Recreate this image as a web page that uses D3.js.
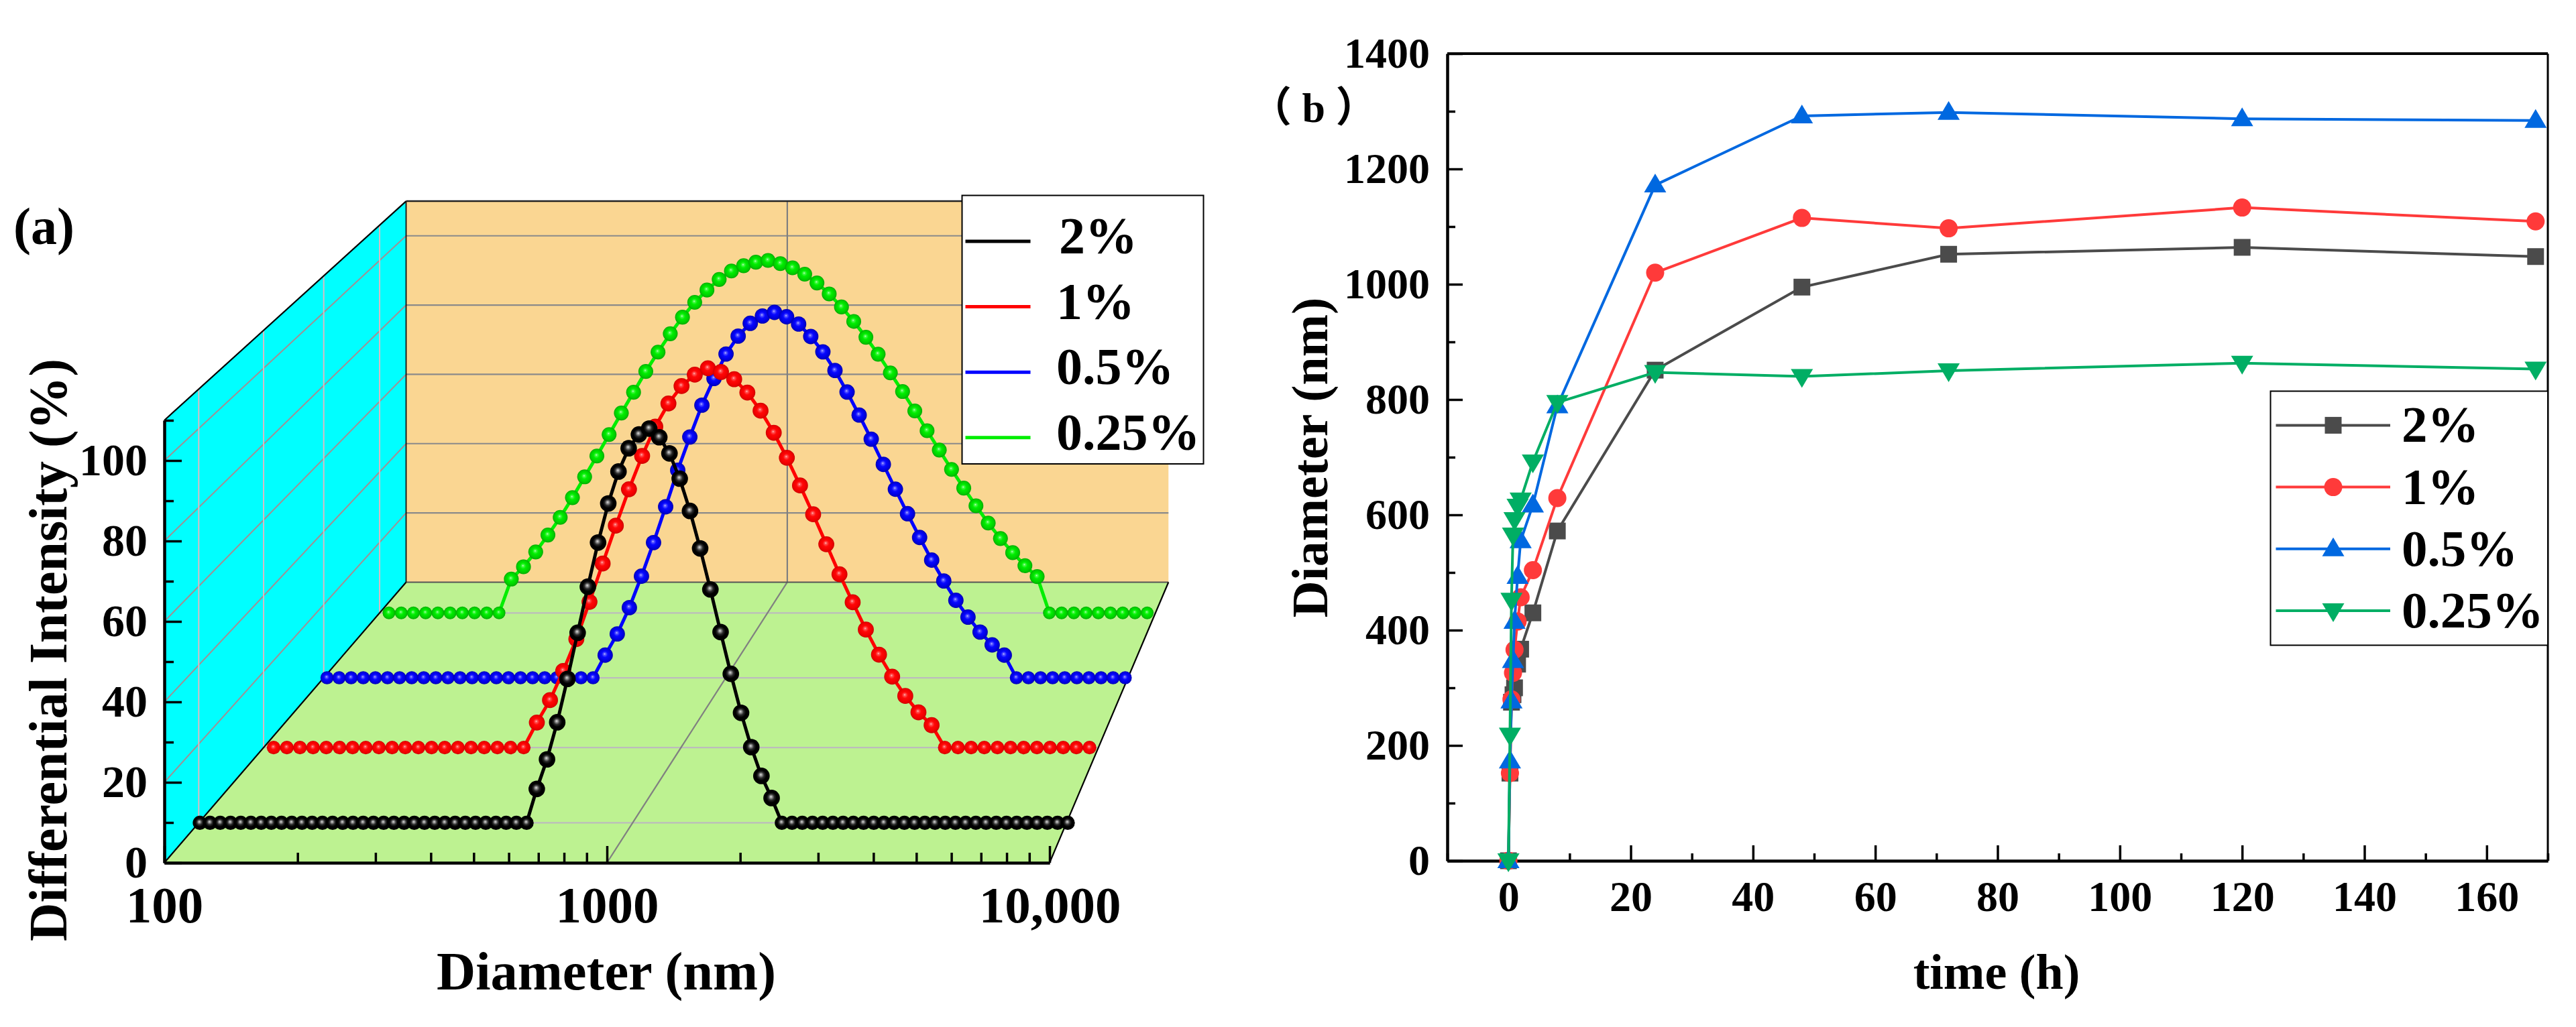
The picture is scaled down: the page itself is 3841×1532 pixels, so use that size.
<!DOCTYPE html>
<html>
<head>
<meta charset="utf-8">
<script src="https://cdn.jsdelivr.net/npm/d3@7"></script>
<style>
  body { margin: 0; background: #fff; }
  svg { display: block; }
  text { font-family: "Liberation Serif", "Noto Sans CJK SC", serif; font-weight: bold; fill: #000; white-space: pre; }
  .axis text { fill: #000; }
  .axis line { stroke: #000; stroke-width: 3.5; }
  .axis path { stroke: #000; stroke-width: 4; }
</style>
</head>
<body>
<svg id="chart" width="3841" height="1532"></svg>
<script>
// panel (a): diameter (nm) and normalised intensity (%)
var diam2 = [100.6,106.2,112.1,118.4,125.0,131.9,139.3,147.0,155.2,163.9,173.0,182.6,192.8,203.5,214.8,226.8,239.4,252.8,266.8,281.7,297.4,313.9,331.4,349.9,369.3,389.9,411.6,434.5,458.7,484.2,511.2,539.7,569.7,601.4,634.9,670.3,707.6,747.0,788.6,832.5,878.8,927.8,979.4,1034,1092,1152,1216,1284,1356,1431,1511,1595,1684,1778,1877,1981,2091,2208,2331,2461,2598,2742,2895,3056,3226,3406,3596,3796,4007,4230,4466,4715,4977,5254,5547,5856,6182,6526,6889,7273,7678,8105,8556,9033,9536,10067];
var int2 = [0,0,0,0,0,0,0,0,0,0,0,0,0,0,0,0,0,0,0,0,0,0,0,0,0,0,0,0,0,0,0,0,0,
  8.6,16.1,25.5,36.5,48.2,59.9,71.1,81.0,89.1,95.0,98.5,100,97.8,93.7,87.3,79.1,69.6,59.2,48.4,37.8,27.9,19.2,11.9,6.3,
  0,0,0,0,0,0,0,0,0,0,0,0,0,0,0,0,0,0,0,0,0,0,0,0,0,0,0,0,0];

var diam1 = [105.7,113.7,122.2,131.4,141.3,152.0,163.4,175.7,188.9,203.2,218.5,234.9,252.6,271.6,292.1,314.1,337.7,363.2,390.5,419.9,451.5,485.5,522.1,561.4,603.6,649.1,698.0,750.5,807.0,867.8,933.1,1003,1079,1160,1247,1341,1442,1551,1668,1793,1928,2073,2229,2397,2578,2772,2981,3205,3446,3706,3985,4285,4608,4955,5328,5729,6160,6624,7123,7659,8236,8856,9523];
var int1 = [0,0,0,0,0,0,0,0,0,0,0,0,0,0,0,0,0,0,0,0,
  6.6,12.5,20.2,28.6,38.4,48.5,58.5,68.1,76.9,84.6,90.7,95.3,98.3,100,99.0,97.1,93.6,88.8,83.0,76.4,69.1,61.5,53.6,45.7,38.3,31.1,24.5,18.7,13.6,9.3,5.9,
  0,0,0,0,0,0,0,0,0,0,0,0];

var diam05 = [101.9,109.2,117.0,125.4,134.4,144.1,154.4,165.5,177.3,190.0,203.7,218.3,233.9,250.7,268.7,288.0,308.6,330.7,354.4,379.8,407.1,436.3,467.5,501.1,537.0,575.5,616.8,661.0,708.4,759.2,813.6,871.9,934.5,1001,1073,1150,1233,1321,1416,1517,1626,1743,1868,2002,2145,2299,2464,2640,2830,3033,3250,3483,3733,4001,4288,4595,4925,5278,5656,6062,6496,6962,7461,7996,8570,9184,9843];
var int05 = [0,0,0,0,0,0,0,0,0,0,0,0,0,0,0,0,0,0,0,0,0,0,0,
  6.2,12.0,19.2,27.8,37.0,46.8,56.8,65.9,74.6,81.9,88.6,93.5,97.0,99.0,100,98.8,96.8,93.4,89.2,84.1,78.2,71.9,65.3,58.4,51.6,44.9,38.4,32.2,26.5,21.2,16.6,12.5,9.0,6.2,
  0,0,0,0,0,0,0,0,0,0];

var diam025 = [105.7,113.7,122.2,131.4,141.3,152.0,163.4,175.7,188.9,203.2,218.5,234.9,252.6,271.6,292.1,314.1,337.7,363.2,390.5,419.9,451.5,485.5,522.1,561.4,603.6,649.1,698.0,750.5,807.0,867.8,933.1,1003,1079,1160,1247,1341,1442,1551,1668,1793,1928,2073,2229,2397,2578,2772,2981,3205,3446,3706,3985,4285,4608,4955,5328,5729,6160,6624,7123,7659,8236,8856,9523];
var int025 = [0,0,0,0,0,0,0,0,0,0,
  9.6,13.1,17.3,22.1,27.1,32.7,38.6,44.5,50.6,56.7,62.6,68.5,74.0,79.2,83.9,88.1,91.6,94.6,97.0,98.5,99.5,100,99.1,97.9,96.1,93.6,90.5,86.8,82.7,78.2,73.4,68.1,62.8,57.3,51.7,46.2,40.7,35.4,30.4,25.5,21.1,17.1,13.4,10.3,
  0,0,0,0,0,0,0,0,0];

// panel (b): z-size over time
var hours = [0,0.25,0.5,0.75,1,1.5,2,4,8,24,48,72,120,168];
var size2 = [0,152,275,288,300,341,367,430,572,851,995,1052,1064,1048];
var size1 = [0,152,280,326,366,415,457,504,629,1020,1115,1097,1133,1109];
var size05 = [0,173,277,347,415,493,555,617,789,1172,1292,1298,1287,1284];
var size025 = [0,218,452,565,592,615,626,692,795,847,840,850,863,853];

var labels = ["2%", "1%", "0.5%", "0.25%"];
var sphereColors = ["#000000", "#ff0000", "#0000ff", "#00ee00"];
var lineColorsB = ["#4b4b4b", "#ff3a3a", "#0068e0", "#00ae64"];

var svg = d3.select("#chart");
var defs = svg.append("defs");

function addSphere(id, stops) {
  var g = defs.append("radialGradient").attr("id", id)
    .attr("cx", "50%").attr("cy", "50%").attr("r", "52%")
    .attr("fx", "46%").attr("fy", "42%");
  stops.forEach(function(s) {
    g.append("stop").attr("offset", s[0]).attr("stop-color", s[1]);
  });
}
addSphere("ball0", [["0%", "#e0e0e0"], ["12%", "#a0a0a0"], ["36%", "#2a2a2a"], ["60%", "#000000"], ["100%", "#000000"]]);
addSphere("ball1", [["0%", "#ffc8c8"], ["12%", "#ff5a5a"], ["38%", "#ff0808"], ["75%", "#f00000"], ["100%", "#c80000"]]);
addSphere("ball2", [["0%", "#c8c8ff"], ["12%", "#6060ff"], ["38%", "#0808ff"], ["75%", "#0000e0"], ["100%", "#0000a8"]]);
addSphere("ball3", [["0%", "#d8ffd8"], ["12%", "#50f850"], ["38%", "#00ee00"], ["75%", "#00d000"], ["100%", "#00a400"]]);

// ---- panel (a) ----
var xA = d3.scaleLog().domain([100, 10000]).range([245, 1565]);
var yA = d3.scaleLinear().domain([0, 110]).range([1287, 627]);
var depth = d3.scaleLinear().domain([0, 4]).range([0, 0.1612]);
var vanish = [2842, -1728];   // perspective vanishing point of the 3D box

function project(d, v, z) {
  var s = 1 / (1 + depth(z));
  return [vanish[0] + (xA(d) - vanish[0]) * s, vanish[1] + (yA(v) - vanish[1]) * s];
}
function poly(pts) { return pts.map(function(p) { return p.join(","); }).join(" "); }

var a = svg.append("g");

a.append("polygon").attr("fill", "#00ffff")
  .attr("points", poly([project(100,0,0), project(100,110,0), project(100,110,4), project(100,0,4)]));
a.append("polygon").attr("fill", "#fad692")
  .attr("points", poly([project(100,0,4), project(100,110,4), project(10000,110,4), project(10000,0,4)]));
a.append("polygon").attr("fill", "#bdf291")
  .attr("points", poly([project(100,0,0), project(100,0,4), project(10000,0,4), project(10000,0,0)]));

function seg(p, q, color, w) {
  a.append("line").attr("x1", p[0]).attr("y1", p[1]).attr("x2", q[0]).attr("y2", q[1])
    .attr("stroke", color).attr("stroke-width", w);
}

var gridY = [20, 40, 60, 80, 100];
var depths = [0.5, 1.5, 2.5, 3.5];
gridY.forEach(function(v) {
  seg(project(100,v,4), project(10000,v,4), "#8a8a8a", 2.2);
  seg(project(100,v,0), project(100,v,4), "#a09094", 2);
});
depths.forEach(function(z) {
  seg(project(100,0,z), project(10000,0,z), "#bcbcbc", 2.2);
  seg(project(100,0,z), project(100,110,z), "#d8bcc4", 2);
});
seg(project(1000,0,0), project(1000,0,4), "#808080", 2.2);
seg(project(1000,0,4), project(1000,110,4), "#808080", 2.2);

seg(project(100,0,4), project(10000,0,4), "#555", 2);
seg(project(100,110,4), project(10000,110,4), "#222", 2.4);
seg(project(100,110,0), project(100,110,4), "#000", 2.2);
seg(project(100,0,0), project(100,0,4), "#000", 2.2);
seg(project(10000,0,0), project(10000,0,4), "#000", 2.2);
seg(project(100,0,4), project(100,110,4), "#111", 1.8);

// axes of (a), ticks point into the box
a.append("g").attr("class", "axis").attr("transform", "translate(245,0)")
  .call(d3.axisLeft(yA).tickValues([10,30,50,70,90,110]).tickSize(-14).tickSizeOuter(0).tickFormat(""));
a.append("g").attr("class", "axis").attr("transform", "translate(245,0)")
  .call(d3.axisLeft(yA).tickValues([0,20,40,60,80,100]).tickSize(-26).tickPadding(25).tickSizeOuter(0))
  .selectAll("text").style("font-size", "68px");
a.append("g").attr("class", "axis").attr("transform", "translate(0,1287)")
  .call(d3.axisBottom(xA).tickValues([200,300,400,500,600,700,800,900,2000,3000,4000,5000,6000,7000,8000,9000]).tickSize(-15).tickSizeOuter(0).tickFormat(""));
a.append("g").attr("class", "axis").attr("transform", "translate(0,1287)")
  .call(d3.axisBottom(xA).tickValues([100,1000,10000]).tickSize(-25).tickPadding(34).tickSizeOuter(0)
    .tickFormat(function(d) { return d == 10000 ? "10,000" : d; }))
  .selectAll("text").style("font-size", "77px");

// curves, back to front
var curves = [
  {name: 3, z: 3.5, d: diam025, v: int025},
  {name: 2, z: 2.5, d: diam05, v: int05},
  {name: 1, z: 1.5, d: diam1, v: int1},
  {name: 0, z: 0.5, d: diam2, v: int2}
];
curves.forEach(function(c) {
  var rows = c.d.map(function(d, i) { return {d: d, v: c.v[i]}; });
  var g = a.append("g");
  g.append("path").datum(rows)
    .attr("fill", "none")
    .attr("stroke", sphereColors[c.name])
    .attr("stroke-width", 5)
    .attr("d", d3.line()
      .x(function(r) { return project(r.d, r.v, c.z)[0]; })
      .y(function(r) { return project(r.d, r.v, c.z)[1]; }));
  var s = 1 / (1 + depth(c.z));
  g.selectAll("circle").data(rows).enter().append("circle")
    .attr("cx", function(r) { return project(r.d, r.v, c.z)[0]; })
    .attr("cy", function(r) { return project(r.d, r.v, c.z)[1]; })
    .attr("r", function(r) { return (r.v > 0 ? 12.6 : 10.8) * s; })
    .attr("fill", "url(#ball" + c.name + ")");
});

// legend (a)
a.append("rect").attr("x", 1434.5).attr("y", 291.5).attr("width", 360).attr("height", 400.5)
  .attr("fill", "#fff").attr("stroke", "#000").attr("stroke-width", 2);
var legendY = d3.scalePoint().domain(labels).range([360, 652.7]);
labels.forEach(function(l, i) {
  a.append("line").attr("x1", 1439.5).attr("x2", 1536.5).attr("y1", legendY(l)).attr("y2", legendY(l))
    .attr("stroke", sphereColors[i]).attr("stroke-width", 5);
  a.append("text").attr("x", i == 0 ? 1579 : 1575).attr("y", legendY(l) + 18)
    .style("font-size", "78px").text(l);
});

a.append("text").attr("x", 904).attr("y", 1476).attr("text-anchor", "middle")
  .style("font-size", "80.5px").text("Diameter (nm)");
a.append("text").attr("transform", "translate(99,969.5)rotate(-90)").attr("text-anchor", "middle")
  .style("font-size", "80px").text("Differential Intensity (%)");
a.append("text").attr("x", 20).attr("y", 364).style("font-size", "78px").text("(a)");

// ---- panel (b) ----
var xB = d3.scaleLinear().domain([-10, 170]).range([2158, 3799]);
var yB = d3.scaleLinear().domain([0, 1400]).range([1284, 80]);
var b = svg.append("g");

b.append("g").attr("class", "axis").attr("transform", "translate(0,1284)")
  .call(d3.axisBottom(xB).tickValues(d3.range(-10, 171, 20)).tickSize(-11).tickSizeOuter(0).tickFormat(""));
b.append("g").attr("class", "axis").attr("transform", "translate(0,1284)")
  .call(d3.axisBottom(xB).tickValues(d3.range(0, 161, 20)).tickSize(-23).tickPadding(30).tickSizeOuter(0))
  .selectAll("text").style("font-size", "64px");
b.append("g").attr("class", "axis").attr("transform", "translate(2158,0)")
  .call(d3.axisLeft(yB).tickValues(d3.range(100, 1400, 200)).tickSize(-12).tickSizeOuter(0).tickFormat(""));
b.append("g").attr("class", "axis").attr("transform", "translate(2158,0)")
  .call(d3.axisLeft(yB).tickValues(d3.range(0, 1401, 200)).tickSize(-23).tickPadding(26).tickSizeOuter(0).tickFormat(d3.format("d")))
  .selectAll("text").style("font-size", "64px");
// top and right edges of the frame
b.append("line").attr("x1", xB.range()[0]).attr("x2", xB.range()[1]).attr("y1", yB(1400)).attr("y2", yB(1400))
  .attr("stroke", "#000").attr("stroke-width", 4);
b.append("line").attr("x1", xB(170)).attr("x2", xB(170)).attr("y1", yB(0)).attr("y2", yB(1400))
  .attr("stroke", "#000").attr("stroke-width", 3);

var symbols = [
  d3.symbol().type(d3.symbolSquare).size(625),
  d3.symbol().type(d3.symbolCircle).size(573),
  function() { return "M0,-17L16.5,11L-16.5,11Z"; },
  function() { return "M0,17L16.5,-11L-16.5,-11Z"; }
];
var seriesB = [size2, size1, size05, size025];
seriesB.forEach(function(vals, k) {
  var g = b.append("g");
  g.append("path").datum(vals)
    .attr("fill", "none").attr("stroke", lineColorsB[k]).attr("stroke-width", 4)
    .attr("d", d3.line().x(function(v, i) { return xB(hours[i]); }).y(function(v) { return yB(v); }));
  g.selectAll("path.m").data(vals).enter().append("path").attr("class", "m")
    .attr("transform", function(v, i) { return "translate(" + xB(hours[i]) + "," + yB(v) + ")"; })
    .attr("d", symbols[k]())
    .attr("fill", lineColorsB[k]);
});

// legend (b)
b.append("rect").attr("x", 3385.5).attr("y", 583.5).attr("width", 413.5).attr("height", 379)
  .attr("fill", "#fff").attr("stroke", "#000").attr("stroke-width", 2);
var legendYB = d3.scalePoint().domain(labels).range([634.4, 911]);
labels.forEach(function(l, k) {
  b.append("line").attr("x1", 3393.5).attr("x2", 3564).attr("y1", legendYB(l)).attr("y2", legendYB(l))
    .attr("stroke", lineColorsB[k]).attr("stroke-width", 4);
  b.append("path").attr("transform", "translate(3479," + legendYB(l) + ")")
    .attr("d", symbols[k]()).attr("fill", lineColorsB[k]);
  b.append("text").attr("x", 3581).attr("y", legendYB(l) + 25)
    .style("font-size", "77px").text(l);
});

b.append("text").attr("x", 2977).attr("y", 1475).attr("text-anchor", "middle")
  .style("font-size", "74px").text("time (h)");
b.append("text").attr("transform", "translate(1979,682.5)rotate(-90)").attr("text-anchor", "middle")
  .style("font-size", "76px").text("Diameter (nm)");
b.append("text").attr("x", 1864).attr("y", 182).style("font-size", "62px").text("（ b ）");
</script>
</body>
</html>
